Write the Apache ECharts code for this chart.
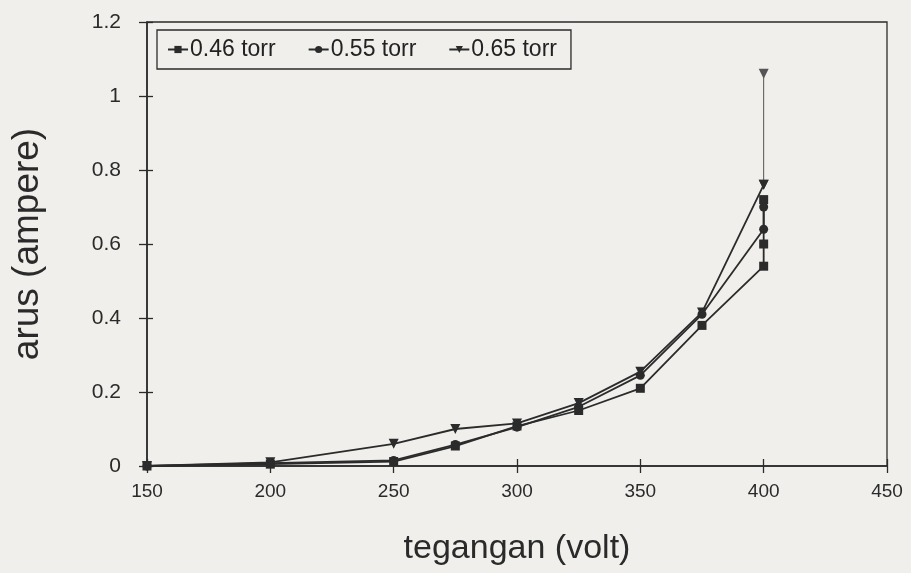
<!DOCTYPE html>
<html><head><meta charset="utf-8">
<script src="https://cdn.jsdelivr.net/npm/echarts@6/dist/echarts.min.js"></script>
<style>html,body{margin:0;padding:0;background:#f0efec}#c{width:911px;height:573px}</style>
</head><body><div id="c"></div>
<script>
const seriesNames = ['0.46 torr', '0.55 torr', '0.65 torr'];
const xTicks = [150, 200, 250, 300, 350, 400, 450];
const yTicks = [0, 0.2, 0.4, 0.6, 0.8, 1, 1.2];
const volt46 = [150, 200, 250, 275, 300, 325, 350, 375, 400, 400, 400];
const amp46  = [0, 0.005, 0.012, 0.054, 0.108, 0.15, 0.21, 0.38, 0.54, 0.60, 0.72];
const volt55 = [150, 200, 250, 275, 300, 325, 350, 375, 400, 400];
const amp55  = [0, 0.008, 0.015, 0.058, 0.105, 0.16, 0.245, 0.41, 0.64, 0.70];
const volt65 = [150, 200, 250, 275, 300, 325, 350, 375, 400];
const amp65  = [0, 0.01, 0.06, 0.10, 0.115, 0.17, 0.255, 0.415, 0.76];
const volt65top = [400, 400];
const amp65top  = [0.76, 1.06];

const pair = (xs, ys) => xs.map((x, i) => [x, ys[i]]);
const ink = '#2b2b2b';
const font = 'Liberation Sans';

const chart = echarts.init(document.getElementById('c'));
const axisCommon = { type: 'value', min: 150, max: 450, interval: 50 };
chart.setOption({
  backgroundColor: '#f0efec',
  animation: false,
  textStyle: { fontFamily: font, color: '#2a2a2a' },
  grid: { left: 147, right: 24, top: 22, bottom: 107, show: true, borderColor: ink, borderWidth: 1.3, backgroundColor: 'transparent' },
  legend: {
    data: seriesNames,
    left: 157, top: 30,
    orient: 'horizontal',
    borderColor: ink, borderWidth: 1.3,
    padding: [8, 14, 8, 10],
    itemGap: 32, itemWidth: 20, itemHeight: 9,
    textStyle: { fontSize: 23, color: '#222', fontFamily: font, padding: [0, 0, 0, -3] }
  },
  xAxis: [
    Object.assign({}, axisCommon, {
      position: 'bottom',
      name: 'tegangan (volt)', nameLocation: 'middle', nameGap: 66,
      nameTextStyle: { fontSize: 34, color: '#2a2a2a', fontFamily: font },
      axisLine: { show: true, onZero: false, lineStyle: { color: ink, width: 1.6 } },
      axisTick: { show: true, inside: false, length: 7, lineStyle: { color: ink, width: 1.3 } },
      axisLabel: { fontSize: 19, color: '#2a2a2a', margin: 16, fontFamily: font,
        formatter: v => xTicks.includes(v) ? String(v) : '' },
      splitLine: { show: false }
    }),
    Object.assign({}, axisCommon, {
      position: 'bottom',
      axisLine: { show: false, onZero: false },
      axisTick: { show: true, inside: true, length: 7, lineStyle: { color: ink, width: 1.3 } },
      axisLabel: { show: false },
      splitLine: { show: false }
    })
  ],
  yAxis: [
    {
      type: 'value', min: 0, max: 1.2, interval: 0.2,
      name: 'arus (ampere)', nameLocation: 'middle', nameGap: 101, nameRotate: 90,
      nameTextStyle: { fontSize: 37, color: '#2a2a2a', fontFamily: font },
      axisLine: { show: true, lineStyle: { color: ink, width: 1.6 } },
      axisTick: { show: true, inside: false, length: 8, lineStyle: { color: ink, width: 1.3 } },
      axisLabel: { fontSize: 21, color: '#2a2a2a', margin: 26,
        formatter: v => { const t = yTicks.find(k => Math.abs(k - v) < 1e-9); return t === undefined ? '' : String(t); } },
      splitLine: { show: false }
    },
    {
      type: 'value', min: 0, max: 1.2, interval: 0.2, position: 'left',
      axisLine: { show: false },
      axisTick: { show: true, inside: true, length: 6, lineStyle: { color: ink, width: 1.3 } },
      axisLabel: { show: false },
      splitLine: { show: false }
    }
  ],
  series: [
    { name: seriesNames[0], type: 'line', data: pair(volt46, amp46), symbol: 'rect', symbolSize: 9,
      lineStyle: { color: ink, width: 1.8 }, itemStyle: { color: ink }, z: 3 },
    { name: seriesNames[1], type: 'line', data: pair(volt55, amp55), symbol: 'circle', symbolSize: 9,
      lineStyle: { color: ink, width: 1.8 }, itemStyle: { color: ink }, z: 3 },
    { name: seriesNames[2], type: 'line', data: pair(volt65, amp65), symbol: 'triangle', symbolRotate: 180, symbolSize: 10,
      lineStyle: { color: ink, width: 1.8 }, itemStyle: { color: ink }, z: 3 },
    { name: seriesNames[2], type: 'line', data: pair(volt65top, amp65top), symbol: 'triangle', symbolRotate: 180, symbolSize: 10,
      lineStyle: { color: '#555', width: 1 }, itemStyle: { color: '#555' }, z: 2 }
  ]
});
</script></body></html>
